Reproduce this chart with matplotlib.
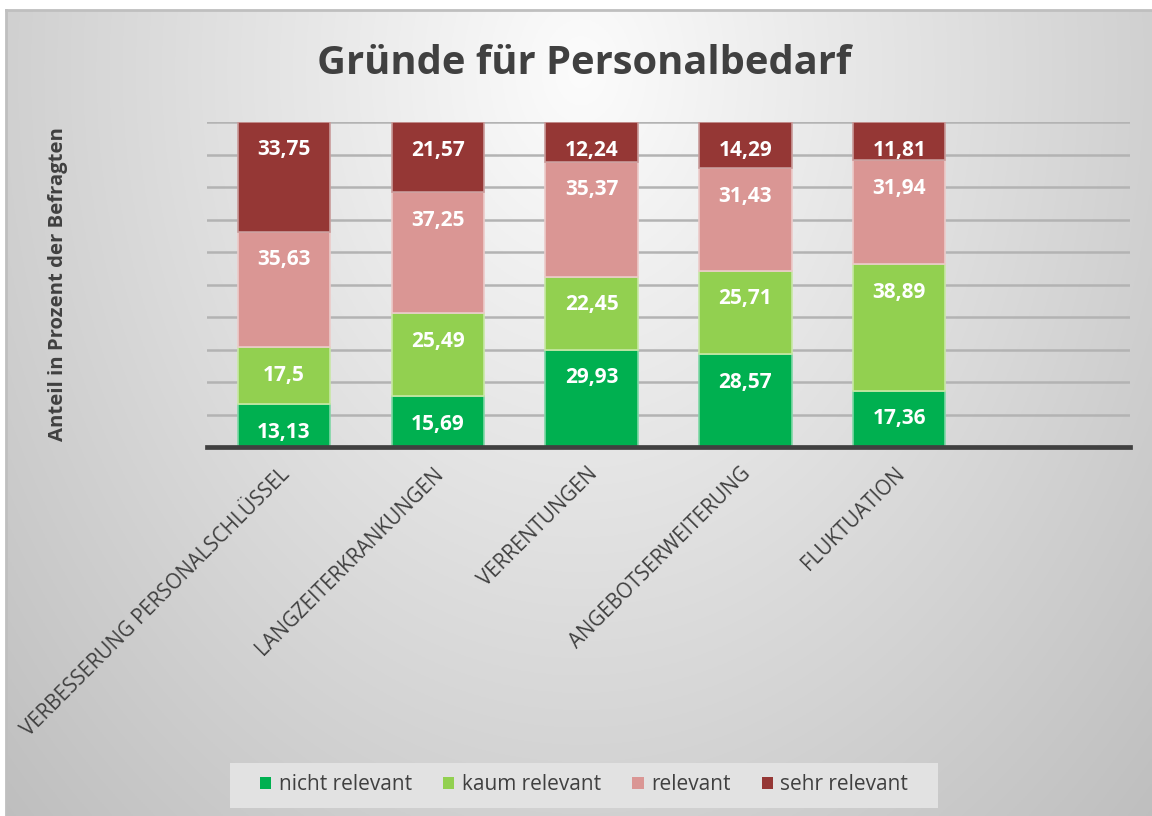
import numpy as np
import matplotlib
matplotlib.use("Agg")
import matplotlib.pyplot as plt
from matplotlib.patches import Patch, Rectangle

categories = ["VERBESSERUNG PERSONALSCHLÜSSEL", "LANGZEITERKRANKUNGEN",
              "VERRENTUNGEN", "ANGEBOTSERWEITERUNG", "FLUKTUATION"]
series_names = ["nicht relevant", "kaum relevant", "relevant", "sehr relevant"]
nicht_relevant = [13.13, 15.69, 29.93, 28.57, 17.36]
kaum_relevant = [17.5, 25.49, 22.45, 25.71, 38.89]
relevant = [35.63, 37.25, 35.37, 31.43, 31.94]
sehr_relevant = [33.75, 21.57, 12.24, 14.29, 11.81]
label_texts = [
    ["13,13", "15,69", "29,93", "28,57", "17,36"],
    ["17,5", "25,49", "22,45", "25,71", "38,89"],
    ["35,63", "37,25", "35,37", "31,43", "31,94"],
    ["33,75", "21,57", "12,24", "14,29", "11,81"],
]
colors = ["#00b050", "#92d050", "#da9694", "#953735"]
edge_colors = ["#7fd7a6", "#c8e8a6", "#eccbca", "#c99b9a"]

plt.rcParams['font.family'] = ['Open Sans', 'DejaVu Sans']
W, H = 1152, 816
fig = plt.figure(figsize=(W / 100, H / 100), dpi=100)
fig.patch.set_facecolor("white")

# background gradient panel
px0, py0 = 6, 10
bg = fig.add_axes([px0 / W, 0, 1 - px0 / W, 1 - py0 / H], zorder=-10)
ny, nx = 400, 560
yy, xx = np.mgrid[0:ny, 0:nx]
X = xx / nx * (W - px0) + px0
Y = yy / ny * (H - py0) + py0
r = np.sqrt(((X - 580) / 720) ** 2 + ((Y - 70) / 950) ** 2)
v = 252 - 55 * np.clip(r, 0, 1.2)
img = np.dstack([v, v, v]) / 255.0
bg.imshow(np.clip(img, 0, 1), aspect='auto', extent=[0, 1, 0, 1], origin='upper')
bg.set_xlim(0, 1); bg.set_ylim(0, 1)
bg.axis('off')
bg.plot([0, 0], [0, 1], color="#bfbfbf", lw=2, transform=bg.transAxes, clip_on=False)
bg.plot([0, 1], [1, 1], color="#bfbfbf", lw=2, transform=bg.transAxes, clip_on=False)

ax = fig.add_axes([207 / W, 1 - 447 / H, (1130 - 207) / W, (447 - 122) / H])
ax.set_facecolor("none")
x = np.arange(len(categories))
data = [nicht_relevant, kaum_relevant, relevant, sehr_relevant]
bottom = np.zeros(len(categories))
for i, vals in enumerate(data):
    vals = np.array(vals)
    ax.bar(x, vals, 0.6, bottom=bottom, color=colors[i], edgecolor=edge_colors[i],
           linewidth=1.2, label=series_names[i], zorder=3)
    for j in range(len(categories)):
        top = bottom[j] + vals[j]
        ax.annotate(label_texts[i][j], (x[j], top), xytext=(0, -28), textcoords='offset pixels',
                    ha='center', va='center', color='white', fontsize=15, fontweight='bold', zorder=5)
    bottom = bottom + vals

ax.set_xlim(-0.5, 5.5)
ax.set_ylim(0, 100)
ax.set_yticks(np.arange(10, 101, 10))
ax.yaxis.grid(True, color="#b3b3b3", linewidth=1.8, zorder=0)
ax.tick_params(axis='y', length=0, labelleft=False)
ax.tick_params(axis='x', length=0, pad=12)
for s in ["left", "right", "top"]:
    ax.spines[s].set_visible(False)
ax.spines["bottom"].set_color("#404040")
ax.spines["bottom"].set_linewidth(3.4)
ax.spines["bottom"].set_zorder(6)
ax.set_xticks(x)
ax.set_xticklabels(categories, rotation=45, ha='right', va='top', rotation_mode='anchor',
                   fontsize=14.8, color="#404040")
for lab in ax.get_xticklabels():
    lab.set_transform(lab.get_transform() + matplotlib.transforms.ScaledTranslation(-0.05, 0, fig.dpi_scale_trans))

fig.text(584 / W, 1 - 63 / H, "Gründe für Personalbedarf", ha='center', va='center',
         fontsize=28.7, fontweight='bold', color="#404040")
fig.text(58 / W, 1 - 284 / H, "Anteil in Prozent der Befragten", ha='center', va='center',
         rotation=90, fontsize=14.6, fontweight='bold', color="#404040")

# legend box
fig.patches.append(Rectangle((230 / W, 1 - 808 / H), (938 - 230) / W, 45 / H,
                             transform=fig.transFigure, facecolor="#e2e2e2", edgecolor="none", zorder=1))
handles = [Patch(facecolor=c, edgecolor='none') for c in colors]
leg = fig.legend(handles, series_names, loc='center', bbox_to_anchor=(584 / W, 1 - 785 / H),
                 ncol=4, frameon=False, fontsize=15, handlelength=0.55, handleheight=0.55,
                 handletextpad=0.35, columnspacing=1.5, labelcolor="#404040")

fig.savefig("out.png", dpi=100)
